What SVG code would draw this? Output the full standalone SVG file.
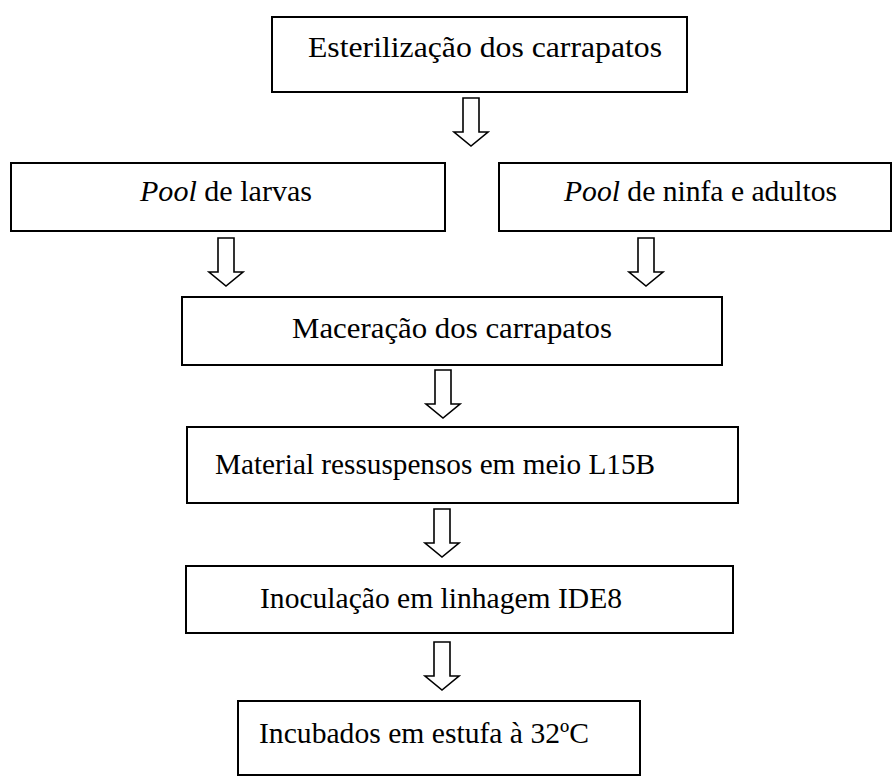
<svg xmlns="http://www.w3.org/2000/svg" width="894" height="777" viewBox="0 0 894 777">
<style>
.box{fill:#fff;stroke:#000;stroke-width:2}
.t{font-family:'Liberation Serif','Times New Roman',serif;font-size:30px;fill:#000}
.arr{fill:#fff;stroke:#000;stroke-width:1.6;stroke-linejoin:miter}
</style>
<defs>
<path id="barrow" d="M-8,0 H8 V34 H17 L0,48 L-17,34 H-8 Z"/>
</defs>
<rect width="894" height="777" fill="#fff"/>
<g id="connectors">
<use href="#barrow" class="arr" transform="translate(471,98)"/>
<use href="#barrow" class="arr" transform="translate(226,238)"/>
<use href="#barrow" class="arr" transform="translate(646,238)"/>
<use href="#barrow" class="arr" transform="translate(443,370)"/>
<use href="#barrow" class="arr" transform="translate(442,509)"/>
<use href="#barrow" class="arr" transform="translate(442,642)"/>
</g>
<g id="n1"><rect class="box" x="272" y="17" width="415" height="75"/><text class="t" x="308" y="57" textLength="354" lengthAdjust="spacingAndGlyphs">Esterilização dos carrapatos</text></g>
<g id="n2"><rect class="box" x="11" y="163" width="434" height="68"/><text class="t" x="140" y="201" textLength="172" lengthAdjust="spacingAndGlyphs"><tspan font-style="italic">Pool</tspan> de larvas</text></g>
<g id="n3"><rect class="box" x="499" y="163" width="392" height="68"/><text class="t" x="564" y="201" textLength="273" lengthAdjust="spacingAndGlyphs"><tspan font-style="italic">Pool</tspan> de ninfa e adultos</text></g>
<g id="n4"><rect class="box" x="182" y="297" width="540" height="68"/><text class="t" x="292" y="338" textLength="320" lengthAdjust="spacingAndGlyphs">Maceração dos carrapatos</text></g>
<g id="n5"><rect class="box" x="187" y="427" width="551" height="76"/><text class="t" x="215" y="474" textLength="440" lengthAdjust="spacingAndGlyphs">Material ressuspensos em meio L15B</text></g>
<g id="n6"><rect class="box" x="186" y="566" width="547" height="67"/><text class="t" x="260" y="608" textLength="362" lengthAdjust="spacingAndGlyphs">Inoculação em linhagem IDE8</text></g>
<g id="n7"><rect class="box" x="238" y="701" width="402" height="74"/><text class="t" x="259" y="743" textLength="330" lengthAdjust="spacingAndGlyphs">Incubados em estufa à 32ºC</text></g>
</svg>
